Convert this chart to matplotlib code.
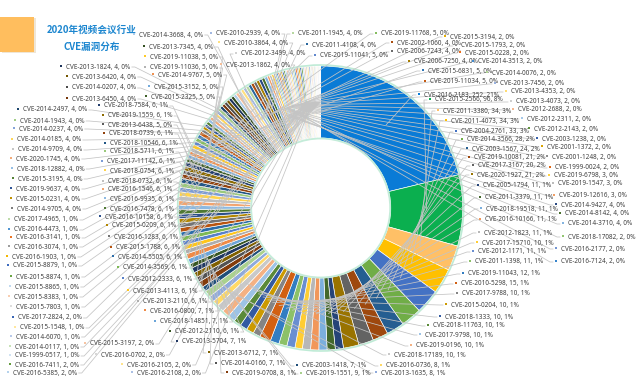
import colorsys
import math
import matplotlib
matplotlib.use("Agg")
import matplotlib.pyplot as plt
from matplotlib.colors import to_rgb
from matplotlib.patches import Rectangle, Circle

title_lines = ["2020年视频会议行业", "CVE漏洞分布"]

cve_ids = [
 "2016-2183","2015-2566","2011-3380","2011-4073","2004-2761","2014-3566","2003-1567","2019-10081","2017-3167","2020-1927",
 "2005-1794","2011-3379","2018-19518","2016-10166","2012-1823","2017-15710","2012-1171","2011-1398","2019-11043","2010-5298",
 "2017-9788","2015-0204","2018-1333","2018-11763","2017-9798","2019-0196","2018-17189","2016-0736","2013-1635","2019-1551",
 "2003-1418","2019-0708","2014-0160","2013-6712","2013-5704","2012-2110","2018-14851","2016-0800","2013-2110","2013-4113",
 "2012-2333","2014-3569","2014-5505","2015-1788","2016-1283","2015-0209","2016-10158","2016-7478","2016-9935","2016-1546",
 "2018-0732","2018-0754","2017-11142","2018-5711","2018-10546","2018-0739","2013-6438","2019-1559","2018-7584","2015-2325",
 "2015-3152","2014-9767","2019-11036","2019-11038","2019-11041","2019-11768","2015-6831","2019-11034",
 "2014-9705","2015-0231","2019-9637","2015-3195","2018-12882","2020-1745","2014-9709","2014-0185","2014-0237","2014-1943",
 "2014-2497","2013-6450","2014-0207","2013-6420","2013-1824","2013-7345","2014-3668","2013-1862","2012-3499","2010-3864",
 "2010-2939","2011-1945","2011-4108","2002-1060","2006-7243","2006-7250","2014-9427","2014-8142","2014-3710",
 "2019-12616","2019-1547","2019-6798",
 "2016-2177","2018-17082","2016-7124","1999-0024","2001-1248","2001-1372","2003-1238","2012-2143","2012-2311","2012-2688",
 "2013-4073","2013-4353","2013-7456","2014-0076","2014-3513","2015-0228","2015-1793","2015-3194",
 "2017-2824","2016-7411","2016-5385","2015-3197","2016-0702","2016-2105","2016-2108",
 "2017-4965","2016-4473","2016-3141","2016-3074","2016-1903","2015-8879","2015-8874","2015-8865","2015-8383","2015-7803",
 "2015-1548","2014-6070","2014-0117","1999-0517",
]
counts = [
 252,96,34,34,33,28,24,21,20,21,
 11,11,11,11,11,10,11,11,12,15,
 10,10,10,10,10,10,10,8,8,9,
 7,8,7,7,7,6,7,7,6,6,
 6,6,6,6,6,6,6,6,6,6,
 6,6,6,6,6,6,5,6,6,5,
 5,5,5,5,5,5,5,5,
 4,4,4,4,4,4,4,4,4,4,
 4,4,4,4,4,4,4,4,4,4,
 4,4,4,4,4,4,4,4,4,
 3,3,3,
 2,2,2,2,2,2,2,2,2,2,
 2,2,2,2,2,2,2,2,
 2,2,2,2,2,2,2,
 1,1,1,1,1,1,1,1,1,1,
 1,1,1,1,
]

# label text start (x, y) in picture pixels
label_pos = {
 "2014-3668":(139,35),"2010-2939":(216,34),"2013-7345":(149,47),"2010-3864":(224,43),"2012-3499":(241,54),
 "2019-11038":(150,57),"2013-1824":(66,67),"2019-11036":(150,68),"2013-1862":(226,65),"2014-9767":(158,75),
 "2013-6420":(72,77),"2015-3152":(154,87),"2014-0207":(72,88),"2015-2325":(151,97),"2013-6450":(72,99),
 "2018-7584":(104,106),"2014-2497":(23,110),"2019-1559":(108,116),"2014-1943":(20,121),"2013-6438":(108,125),
 "2014-0237":(19,129),"2018-0739":(109,134),"2014-0185":(17,140),"2018-10546":(110,144),"2014-9709":(18,150),
 "2018-5711":(110,152),"2020-1745":(16,159),"2017-11142":(107,162),"2018-12882":(17,169),"2018-0754":(110,171),
 "2015-3195":(18,179),"2018-0732":(108,182),"2019-9637":(16,189),"2016-1546":(108,190),"2015-0231":(16,199),
 "2016-9935":(110,199),"2014-9705":(17,209),"2016-7478":(110,209),"2016-10158":(105,217),"2017-4965":(14,220),
 "2015-0209":(112,226),"2016-4473":(14,230),"2016-1283":(114,237),"2016-3141":(16,238),"2016-3074":(14,247),
 "2015-1788":(116,248),"2016-1903":(12,257),"2014-5505":(118,257),"2015-8879":(13,266),"2014-3569":(123,268),
 "2015-8874":(16,277),"2012-2333":(128,279),"2015-8865":(15,287),"2013-4113":(133,291),"2015-8383":(14,297),
 "2013-2110":(143,302),"2015-7803":(16,307),"2016-0800":(150,311),"2017-2824":(18,318),"2018-14851":(160,322),
 "2015-1548":(20,328),"2012-2110":(175,332),"2014-6070":(16,337),"2013-5704":(182,342),"2015-3197":(90,344),
 "2014-0117":(15,347),"2016-0702":(101,355),"2013-6712":(214,353),"1999-0517":(15,356),"2016-7411":(15,365),
 "2016-2105":(127,365),"2014-0160":(221,364),"2016-5385":(13,373),"2016-2108":(137,373),"2019-0708":(232,373),
 "2003-1418":(302,366),"2019-1551":(306,374),
 "2012-1171":(478,252),"2016-7124":(561,262),"2011-1398":(475,262),"2019-11043":(468,274),"2010-5298":(461,284),
 "2017-9788":(462,294),"2015-0204":(451,305),"2018-1333":(445,317),"2018-11763":(433,326),"2017-9798":(425,335),
 "2019-0196":(416,346),"2018-17189":(394,355),"2016-0736":(386,366),"2013-1635":(381,373),
 "2012-2143":(534,129),"2004-2761":(461,132),"2003-1238":(542,139),"2014-3566":(467,140),"2001-1372":(547,147),
 "2003-1567":(472,149),"2001-1248":(552,157),"2019-10081":(474,158),"1999-0024":(555,168),"2017-3167":(478,166),
 "2020-1927":(477,175),"2019-6798":(554,176),"2019-1547":(558,184),"2005-1794":(483,186),"2011-3379":(485,198),
 "2019-12616":(559,196),"2014-9427":(561,205),"2018-19518":(486,209),"2014-8142":(565,214),"2016-10166":(485,220),
 "2014-3710":(568,224),"2012-1823":(484,233),"2018-17082":(568,237),"2017-15710":(482,243),"2016-2177":(561,249),
 "2019-11768":(381,34),"2015-3194":(450,37),"2002-1060":(397,43),"2015-1793":(461,46),"2006-7243":(397,52),
 "2015-0228":(465,53),"2006-7250":(414,62),"2014-3513":(478,62),"2015-6831":(428,71),"2014-0076":(492,73),
 "2019-11034":(430,82),"2013-7456":(500,84),"2013-4353":(511,92),"2016-2183":(424,95),"2015-2566":(435,100),
 "2013-4073":(516,102),"2012-2688":(518,110),"2011-3380":(443,111),"2012-2311":(527,119),"2011-4073":(451,121),
 "2011-1945":(298,34),"2011-4108":(312,45),"2019-11041":(320,56),
}

W, H = 640, 378
CX, CY, R_OUT, R_IN = 320.7, 208.0, 142.0, 70.0

first_block = ["#0A7BD6", "#0BAF4F", "#FFC066", "#FFC000", "#4472C4", "#70AD47"]
accents = ["#5B9BD5", "#ED7D31", "#A5A5A5", "#FFC000", "#4472C4", "#70AD47"]
tints = [-.4,.2,-.2,.4,-.5,.1,-.3,.3,-.45,.15,-.25,.35,-.55,.5,-.35,.25,-.15,.45,-.1,.55,
         -.05,.62,.72,.8,.86,.9,.93,.95]

def shade(color, t):
    h, l, s = colorsys.rgb_to_hls(*to_rgb(color))
    l = l * (1 + t) if t < 0 else l + (1 - l) * t
    return colorsys.hls_to_rgb(h, l, s)

colors = []
for i in range(len(counts)):
    level, k = divmod(i, 6)
    colors.append(first_block[k] if level == 0 else shade(accents[k], tints[level - 1]))

fig = plt.figure(figsize=(6.4, 3.78), dpi=100)
ax = fig.add_axes([0, 0, 1, 1])
wedges, _ = ax.pie(counts, colors=colors, startangle=90, counterclock=False,
                   center=(CX, H - CY), radius=R_OUT,
                   wedgeprops=dict(width=R_OUT - R_IN, edgecolor="white", linewidth=0.45))
ax.set_xlim(0, W)
ax.set_ylim(0, H)
ax.set_aspect("equal")
ax.axis("off")

ax.add_patch(Circle((CX, H - CY), R_OUT + 1.0, fill=False, ec="#BFEBD6", lw=1.2, zorder=1.5))
ax.add_patch(Circle((CX, H - CY), R_IN - 0.5, fill=False, ec="#C4ECD9", lw=1.3, zorder=1.5))

# corner block and title
ax.add_patch(Rectangle((1.5, H - 53), 34, 35, fc="#EFE6D6", ec="none", zorder=0.5))
ax.add_patch(Rectangle((0, H - 52), 34, 35, fc="#FFBE5E", ec="none", zorder=0.6))
ax.text(92, H - 30, title_lines[0], ha="center", va="center", color="#1C86CF",
        fontsize=6.9, fontweight="bold", family=["Noto Sans CJK SC", "DejaVu Sans"])
ax.text(92, H - 46.5, title_lines[1], ha="center", va="center", color="#1C86CF",
        fontsize=6.9, fontweight="bold", family=["Noto Sans CJK SC", "DejaVu Sans"])

total = sum(counts)
fig.canvas.draw()
renderer = fig.canvas.get_renderer()
for name, value, wedge, col in zip(cve_ids, counts, wedges, colors):
    x, y = label_pos[name]
    txt = f"CVE-{name}, {value}, {round(100 * value / total)}%"
    t = ax.text(x, H - y, txt, ha="left", va="center", fontsize=4.6,
                family="Noto Sans", color="#404040", zorder=4)
    ax.scatter([x - 5], [H - y + 1.5], marker="s", s=3.4, color=[col], linewidths=0, zorder=4)
    width = t.get_window_extent(renderer).width
    mid = math.radians((wedge.theta1 + wedge.theta2) / 2)
    # mid-ring for the large and the very small slices, nearer the rim for the rest
    rm = 124.0 if 5 <= value <= 9 else 106.0
    px, py = CX + rm * math.cos(mid), H - CY + rm * math.sin(mid)
    if x + width / 2 < px:
        sx = x + width + 1.5
        ex = sx + 3
    else:
        sx = x - 8
        ex = sx - 3
    ax.plot([sx, ex, px], [H - y, H - y, py], color="#C4C4C4", lw=0.55, zorder=3, solid_joinstyle="round")

fig.savefig("out.png", dpi=100, facecolor="white")
